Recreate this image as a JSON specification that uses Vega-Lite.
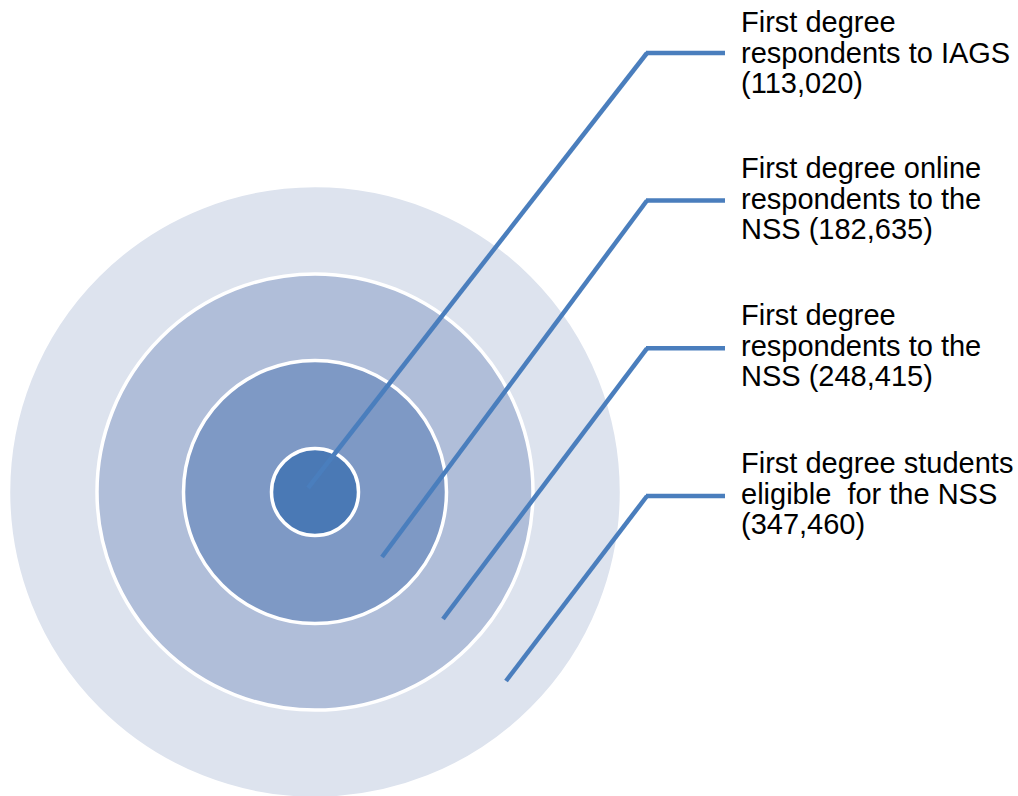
{
  "$schema": "https://vega.github.io/schema/vega-lite/v6.json",
  "width": 1018,
  "height": 796,
  "padding": 0,
  "autosize": {"type": "none"},
  "background": "white",
  "config": {"view": {"stroke": null}, "text": {"lineBreak": "\n"}},
  "datasets": {
    "rings": [
      {"ring": 1, "count": 113020, "label": "First degree\nrespondents to IAGS\n(113,020)"},
      {"ring": 2, "count": 182635, "label": "First degree online\nrespondents to the\nNSS (182,635)"},
      {"ring": 3, "count": 248415, "label": "First degree\nrespondents to the\nNSS (248,415)"},
      {"ring": 4, "count": 347460, "label": "First degree students\neligible\u00a0 for the NSS\n(347,460)"}
    ]
  },
  "data": {"name": "rings"},
  "layer": [
    {
      "mark": {"type": "point", "shape": "circle", "filled": true, "opacity": 1, "stroke": "white", "strokeWidth": 3.5, "strokeOpacity": 1},
      "encoding": {
        "x": {"datum": 0, "type": "quantitative", "scale": {"domain": [-31.5, 70.3], "nice": false, "zero": false}, "axis": null},
        "y": {"datum": 0, "type": "quantitative", "scale": {"domain": [-30.4, 49.2], "nice": false, "zero": false}, "axis": null},
        "size": {"field": "ring", "type": "quantitative", "legend": null, "scale": {"type": "threshold", "domain": [1.5, 2.5, 3.5], "range": [7569, 69169, 190096, 375769]}},
        "color": {"field": "ring", "type": "quantitative", "legend": null, "scale": {"type": "threshold", "domain": [1.5, 2.5, 3.5], "range": ["#4A79B5", "#7E99C5", "#B0BED9", "#DDE3EE"]}},
        "order": {"field": "ring", "sort": "descending"}
      }
    },
    {
      "transform": [{"filter": "datum.ring == 1"}],
      "layer": [
        {"mark": {"type": "rule", "color": "#4A7EBD", "strokeWidth": 4.5}, "encoding": {"x": {"datum": -0.7, "type": "quantitative", "axis": null}, "y": {"datum": 0.4, "type": "quantitative", "axis": null}, "x2": {"datum": 33.2}, "y2": {"datum": 43.9}}},
        {"mark": {"type": "rule", "color": "#4A7EBD", "strokeWidth": 4.5}, "encoding": {"x": {"datum": 33.1, "type": "quantitative", "axis": null}, "y": {"datum": 43.9, "type": "quantitative", "axis": null}, "x2": {"datum": 41.0}}},
        {"mark": {"type": "text", "align": "left", "baseline": "alphabetic", "font": "Liberation Sans", "fontSize": 29, "lineHeight": 30.5, "lineBreak": "\n", "color": "black"}, "encoding": {"x": {"datum": 42.6, "type": "quantitative", "axis": null}, "y": {"datum": 46.0, "type": "quantitative", "axis": null}, "text": {"field": "label"}}}
      ]
    },
    {
      "transform": [{"filter": "datum.ring == 2"}],
      "layer": [
        {"mark": {"type": "rule", "color": "#4A7EBD", "strokeWidth": 4.5}, "encoding": {"x": {"datum": 6.7, "type": "quantitative", "axis": null}, "y": {"datum": -6.5, "type": "quantitative", "axis": null}, "x2": {"datum": 33.2}, "y2": {"datum": 29.15}}},
        {"mark": {"type": "rule", "color": "#4A7EBD", "strokeWidth": 4.5}, "encoding": {"x": {"datum": 33.1, "type": "quantitative", "axis": null}, "y": {"datum": 29.15, "type": "quantitative", "axis": null}, "x2": {"datum": 41.0}}},
        {"mark": {"type": "text", "align": "left", "baseline": "alphabetic", "font": "Liberation Sans", "fontSize": 29, "lineHeight": 30.5, "lineBreak": "\n", "color": "black"}, "encoding": {"x": {"datum": 42.6, "type": "quantitative", "axis": null}, "y": {"datum": 31.4, "type": "quantitative", "axis": null}, "text": {"field": "label"}}}
      ]
    },
    {
      "transform": [{"filter": "datum.ring == 3"}],
      "layer": [
        {"mark": {"type": "rule", "color": "#4A7EBD", "strokeWidth": 4.5}, "encoding": {"x": {"datum": 12.8, "type": "quantitative", "axis": null}, "y": {"datum": -12.7, "type": "quantitative", "axis": null}, "x2": {"datum": 33.2}, "y2": {"datum": 14.37}}},
        {"mark": {"type": "rule", "color": "#4A7EBD", "strokeWidth": 4.5}, "encoding": {"x": {"datum": 33.1, "type": "quantitative", "axis": null}, "y": {"datum": 14.37, "type": "quantitative", "axis": null}, "x2": {"datum": 41.0}}},
        {"mark": {"type": "text", "align": "left", "baseline": "alphabetic", "font": "Liberation Sans", "fontSize": 29, "lineHeight": 30.5, "lineBreak": "\n", "color": "black"}, "encoding": {"x": {"datum": 42.6, "type": "quantitative", "axis": null}, "y": {"datum": 16.7, "type": "quantitative", "axis": null}, "text": {"field": "label"}}}
      ]
    },
    {
      "transform": [{"filter": "datum.ring == 4"}],
      "layer": [
        {"mark": {"type": "rule", "color": "#4A7EBD", "strokeWidth": 4.5}, "encoding": {"x": {"datum": 19.1, "type": "quantitative", "axis": null}, "y": {"datum": -18.9, "type": "quantitative", "axis": null}, "x2": {"datum": 33.2}, "y2": {"datum": -0.4}}},
        {"mark": {"type": "rule", "color": "#4A7EBD", "strokeWidth": 4.5}, "encoding": {"x": {"datum": 33.1, "type": "quantitative", "axis": null}, "y": {"datum": -0.4, "type": "quantitative", "axis": null}, "x2": {"datum": 41.0}}},
        {"mark": {"type": "text", "align": "left", "baseline": "alphabetic", "font": "Liberation Sans", "fontSize": 29, "lineHeight": 30.5, "lineBreak": "\n", "color": "black"}, "encoding": {"x": {"datum": 42.6, "type": "quantitative", "axis": null}, "y": {"datum": 1.9, "type": "quantitative", "axis": null}, "text": {"field": "label"}}}
      ]
    }
  ]
}
